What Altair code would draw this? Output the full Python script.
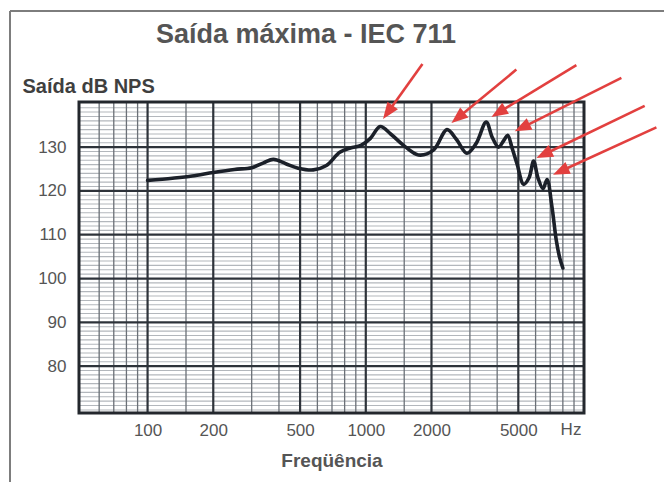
import math
import altair as alt
import pandas as pd

# ---- data ----
freq = [100, 130, 160, 200, 250, 300, 340, 377, 430, 490, 575, 660, 760, 850, 950,
        1050, 1164, 1300, 1490, 1742, 2041, 2355, 2600, 2906, 3200, 3564, 3800,
        4055, 4300, 4467, 4700, 4931, 5290, 5600, 5875, 6150, 6490, 6770, 7130,
        7460, 7750, 8000]
spl = [122.4, 122.9, 123.4, 124.2, 124.9, 125.3, 126.4, 127.2, 126.2, 125.2, 124.8, 125.8,
       128.8, 129.8, 130.4, 132.0, 134.7, 133.0, 130.4, 128.2, 129.3, 134.0, 131.8,
       128.6, 130.8, 135.7, 132.2, 130.0, 131.6, 132.7, 129.5, 126.2, 121.5, 123.0,
       126.8, 123.0, 120.5, 122.6, 116.4, 108.8, 104.6, 102.4]

x_labels = [100, 200, 500, 1000, 2000, 5000]
major_x = [100, 200, 500, 1000, 2000, 5000]
minor_x = [60, 70, 80, 90, 150, 300, 400, 600, 700, 800, 900, 1500, 3000, 4000,
           6000, 7000, 8000, 9000]
major_y = [80, 90, 100, 110, 120, 130]
minor_y = [v for v in range(70, 140) if v % 10 != 0] + [70]

arrow_tail_f = [1818, 4898, 9226, 14838, 18970, 21470]
arrow_tail_db = [149.0, 147.7, 148.7, 145.8, 139.4, 134.5]
arrow_tip_f = [1200, 2470, 3765, 4815, 6053, 7211]
arrow_tip_db = [136.4, 135.5, 136.9, 133.6, 127.5, 123.7]

# ---- layout ----
W, H = 505, 311
XMIN, XMAX = 48.5, 10000
YMIN, YMAX = 69.3, 140.3
FONT = "Liberation Sans"
RED = "#e2403f"

xs = alt.Scale(type="log", domain=[XMIN, XMAX], nice=False)
ys = alt.Scale(domain=[YMIN, YMAX], nice=False, zero=False)

xaxis = alt.Axis(
    values=x_labels, format="d", grid=False, ticks=False, domain=False,
    labelFont=FONT, labelFontSize=17, labelColor="#555555", labelPadding=9,
    labelOverlap=False, labelFlush=False,
    title="Freqüência", titleFont=FONT, titleFontSize=19, titleFontWeight="bold",
    titleColor="#555555", titleY=47, titleBaseline="middle")
yaxis = alt.Axis(
    values=major_y, grid=False, ticks=False, domain=False,
    labelFont=FONT, labelFontSize=17, labelColor="#555555", labelPadding=13,
    title="Saída dB NPS", titleFont=FONT, titleFontSize=20, titleFontWeight="bold",
    titleColor="#3f3f3f", titleAngle=0, titleAlign="left", titleBaseline="middle",
    titleX=-57, titleY=-16)

px_dec = W / math.log10(XMAX / XMIN)
px_db = H / (YMAX - YMIN)

rows = []
for tf, tdb, hf, hdb in zip(arrow_tail_f, arrow_tail_db, arrow_tip_f, arrow_tip_db):
    dx = (math.log10(hf) - math.log10(tf)) * px_dec
    dy = -(hdb - tdb) * px_db
    length = math.hypot(dx, dy)
    t = 1 - 10 / length
    ef = 10 ** (math.log10(tf) + t * (math.log10(hf) - math.log10(tf)))
    edb = tdb + t * (hdb - tdb)
    ang = math.degrees(math.atan2(dx, -dy)) % 360
    rows.append({"tf": tf, "tdb": tdb, "ef": ef, "edb": edb, "hf": hf, "hdb": hdb, "angle": ang})
arrows = pd.DataFrame(rows)

curve_df = pd.DataFrame({"f": freq, "db": spl})
one = pd.DataFrame({"a": [0]})

minor_v = alt.Chart(pd.DataFrame({"f": minor_x})).mark_rule(
    color="#6b7077", strokeWidth=1.3).encode(x=alt.X("f:Q", scale=xs, axis=xaxis))
minor_h = alt.Chart(pd.DataFrame({"db": minor_y})).mark_rule(
    color="#b3b7bc", strokeWidth=1.1).encode(y=alt.Y("db:Q", scale=ys, axis=yaxis))
major_h = alt.Chart(pd.DataFrame({"db": major_y})).mark_rule(
    color="#2e333a", strokeWidth=2.2).encode(y=alt.Y("db:Q", scale=ys, axis=yaxis))
major_v = alt.Chart(pd.DataFrame({"f": major_x})).mark_rule(
    color="#2e333a", strokeWidth=2.2).encode(x=alt.X("f:Q", scale=xs, axis=xaxis))

frame = alt.Chart(one).mark_rect(filled=False, stroke="#23272d", strokeWidth=3).encode(
    x=alt.value(0), x2=alt.value(W), y=alt.value(0), y2=alt.value(H))

curve = alt.Chart(curve_df).mark_line(
    interpolate="catmull-rom", color="#1b2029", strokeWidth=3.6,
    strokeCap="round", strokeJoin="round").encode(
    x=alt.X("f:Q", scale=xs, axis=xaxis),
    y=alt.Y("db:Q", scale=ys, axis=yaxis))

arrow_lines = alt.Chart(arrows).mark_rule(color=RED, strokeWidth=2.6).encode(
    x=alt.X("tf:Q", scale=xs, axis=xaxis), y=alt.Y("tdb:Q", scale=ys, axis=yaxis),
    x2="ef:Q", y2="edb:Q")
arrow_heads = alt.Chart(arrows).mark_point(
    shape="M0,0L-0.7,1.8L0.7,1.8Z", filled=True, fill=RED, color=RED,
    opacity=1, size=340).encode(
    x=alt.X("hf:Q", scale=xs, axis=xaxis), y=alt.Y("hdb:Q", scale=ys, axis=yaxis),
    angle=alt.Angle("angle:Q", scale=None))

title = alt.Chart(one).mark_text(
    text="Saída máxima - IEC 711", font=FONT, fontSize=27, fontWeight="bold",
    color="#555555", align="center", baseline="middle").encode(
    x=alt.value(227), y=alt.value(-67))

hz = alt.Chart(one).mark_text(
    text="Hz", font=FONT, fontSize=17, color="#555555", align="center",
    baseline="middle").encode(x=alt.value(492), y=alt.value(328))

border_left = alt.Chart(one).mark_rule(color="#7d7d7d", strokeWidth=2).encode(
    x=alt.value(-69), y=alt.value(-91), y2=alt.value(400))
border_top = alt.Chart(one).mark_rule(color="#7d7d7d", strokeWidth=2).encode(
    x=alt.value(-69), x2=alt.value(600), y=alt.value(-91))

chart = alt.layer(
    minor_h, minor_v, major_h, major_v, frame, curve, arrow_lines, arrow_heads,
    title, hz, border_left, border_top
).properties(
    width=W, height=H,
    autosize=alt.AutoSizeParams(type="none"),
    padding={"left": 79, "top": 102, "right": 80, "bottom": 69},
    background="white",
).configure_view(stroke=None)

chart.save("out.html", embed_options={"renderer": "svg", "actions": False})
